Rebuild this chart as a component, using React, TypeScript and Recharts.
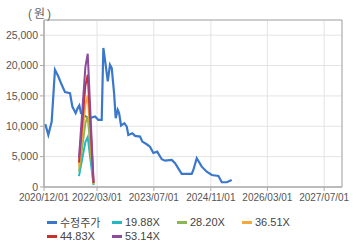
import React from 'react';
import { LineChart, Line, XAxis, YAxis, CartesianGrid, ReferenceArea, Legend } from 'recharts';

// ---- data ----
const priceDates = [
  '2020-12-12', '2021-01-07', '2021-02-05', '2021-03-05', '2021-04-03', '2021-05-02',
  '2021-05-30', '2021-07-12', '2021-08-01', '2021-08-30', '2021-09-16', '2021-09-30',
  '2021-10-14', '2021-11-10', '2021-12-05', '2021-12-31', '2022-02-12', '2022-03-12',
  '2022-04-10', '2022-04-24', '2022-05-08', '2022-06-01', '2022-06-20', '2022-07-05',
  '2022-07-25', '2022-08-08', '2022-08-25', '2022-09-06', '2022-09-23', '2022-10-21',
  '2022-11-11', '2022-11-24', '2022-12-29', '2023-01-21', '2023-03-05', '2023-03-24',
  '2023-05-01', '2023-05-29', '2023-06-27', '2023-07-30', '2023-09-07', '2023-10-05',
  '2023-12-02', '2023-12-30', '2024-02-25', '2024-05-21', '2024-06-04', '2024-07-03',
  '2024-08-15', '2024-09-27', '2024-11-09', '2025-01-05', '2025-02-03', '2025-03-18',
  '2025-04-29',
];
const priceValues = [
  10350, 8580, 10780, 19300, 18200, 16830,
  15630, 15460, 13250, 12160, 12990, 13420,
  12160, 11800, 11500, 11340, 11600, 11060,
  11060, 22890, 20960, 17380, 20130, 19590,
  15460, 11340, 12710, 12160, 10120, 10510,
  9950, 8580, 8860, 8420, 8300, 7480,
  7040, 6650, 5600, 5830, 4570, 4340,
  4460, 3910, 2150, 2150, 2800, 4740,
  3350, 2520, 1980, 1820, 780, 780,
  1160,
];

const bandDates = ['2021-09-27', '2021-11-21', '2021-12-11', '2022-01-30'];
const band1988 = [1790, 7400, 8210, 300];
const band2820 = [2540, 10490, 11650, 420];
const band3651 = [3290, 13580, 15080, 550];
const band4483 = [4030, 16680, 18510, 670];
const band5314 = [4780, 19770, 21950, 800];

const seriesNames = ['수정주가', '19.88X', '28.20X', '36.51X', '44.83X', '53.14X'];
const seriesColors = ['#3b78cc', '#22b8c4', '#8cb653', '#f2a93b', '#c8322e', '#8d4b9c'];

const xTickDates = ['2020-12-01', '2022-03-01', '2023-07-01', '2024-11-01', '2026-03-01', '2027-07-01'];
const xDomainDates = ['2020-12-01', '2027-12-01'];
const yTicks = [0, 5000, 10000, 15000, 20000, 25000];
const yDomain = [0, 27500];

// ---- helpers ----
const toTs = (s: string) => Date.parse(s + 'T00:00:00Z');
const pad = (n: number) => (n < 10 ? '0' + n : '' + n);
const fmtDate = (t: number) => {
  const d = new Date(t);
  return `${d.getUTCFullYear()}/${pad(d.getUTCMonth() + 1)}/${pad(d.getUTCDate())}`;
};
const fmtNum = (v: number) => v.toLocaleString('en-US');

const zip = (dates: string[], vals: number[]) => dates.map((d, i) => ({ t: toTs(d), v: vals[i] }));

const priceData = zip(priceDates, priceValues);
const bandSeries = [band1988, band2820, band3651, band4483, band5314].map((b) => zip(bandDates, b));

const FONT = "Arial, 'Liberation Sans', 'Noto Sans CJK KR', sans-serif";

const LegendContent = () => (
  <div style={{ fontFamily: FONT, fontSize: 11, color: '#444', paddingLeft: 47, display: 'flex', flexWrap: 'wrap', width: 300 }}>
    {seriesNames.map((n, i) => (
      <div key={n} style={{ width: 65, height: 14, display: 'flex', alignItems: 'center' }}>
        <span style={{ display: 'inline-block', width: 10, height: 3, background: seriesColors[i], marginRight: 3 }} />
        <span style={{ whiteSpace: 'nowrap' }}>{n}</span>
      </div>
    ))}
  </div>
);

export default function App() {
  const xDomain = xDomainDates.map(toTs);
  const xTicks = xTickDates.map(toTs);
  return (
    <div style={{ position: 'absolute', left: 0, top: 0, width: 360, height: 248, background: '#fff', fontFamily: FONT }}>
      <div style={{ position: 'absolute', left: 28, top: 4, fontSize: 12, letterSpacing: 2, color: '#666', fontFamily: FONT, zIndex: 2 }}>(원)</div>
      <LineChart width={360} height={248} margin={{ top: 20, right: 18, left: 0, bottom: 0 }}>
        <CartesianGrid stroke="#e4e4e4" />
        <XAxis
          dataKey="t"
          type="number"
          domain={xDomain}
          ticks={xTicks}
          tickFormatter={fmtDate}
          height={61}
          allowDataOverflow
          tickSize={4}
          tickMargin={3}
          tick={{ fontSize: 10, fill: '#555', fontFamily: FONT }}
          stroke="#aaa"
          interval={0}
        />
        <YAxis
          type="number"
          domain={yDomain}
          ticks={yTicks}
          tickFormatter={fmtNum}
          width={44}
          allowDataOverflow
          tickSize={4}
          tickMargin={2}
          tick={{ fontSize: 10.5, fill: '#555', fontFamily: FONT }}
          stroke="#aaa"
          interval={0}
        />
        <ReferenceArea x1={xDomain[0]} x2={xDomain[1]} y1={yDomain[0]} y2={yDomain[1]} fill="none" stroke="#aaa" strokeWidth={1} />
        <Line data={priceData} dataKey="v" name={seriesNames[0]} stroke={seriesColors[0]} strokeWidth={2.2} dot={false} type="linear" isAnimationActive={false} />
        {bandSeries.map((d, i) => (
          <Line key={i} data={d} dataKey="v" name={seriesNames[i + 1]} stroke={seriesColors[i + 1]} strokeWidth={2} dot={false} type="linear" isAnimationActive={false} />
        ))}
        <Legend
          layout="vertical"
          align="center"
          verticalAlign="middle"
          wrapperStyle={{ left: 0, top: 215, width: 360 }}
          content={LegendContent}
        />
      </LineChart>
    </div>
  );
}
